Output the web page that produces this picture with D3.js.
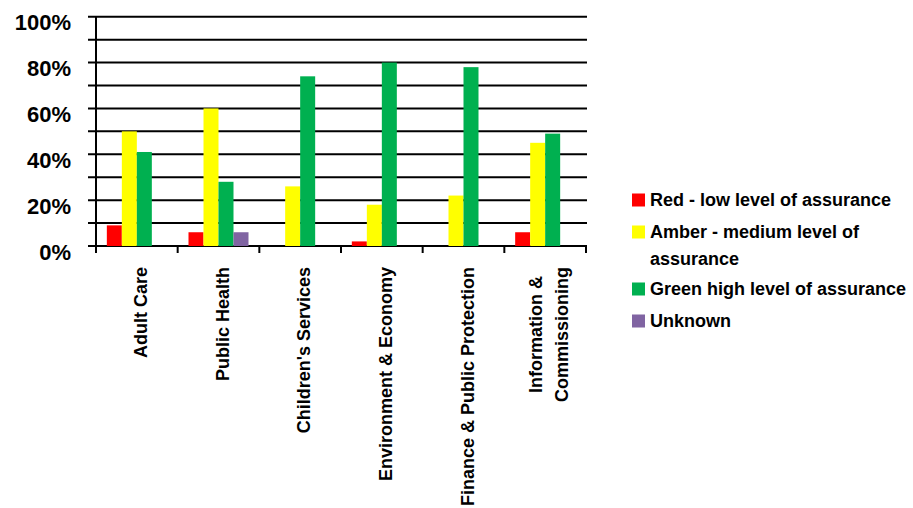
<!DOCTYPE html>
<html>
<head>
<meta charset="utf-8">
<script src="https://cdn.jsdelivr.net/npm/d3@7"></script>
<style>
  body { margin: 0; background: #fff; }
  svg { font-family: "Liberation Sans", Arial, sans-serif; font-weight: bold; }
</style>
</head>
<body>
<svg width="913" height="508"></svg>
<script>
const categories = [
  'Adult Care',
  'Public Health',
  "Children's Services",
  'Environment & Economy',
  'Finance & Public Protection',
  'Information &\nCommissioning'
];
const seriesNames = [
  'Red - low level of assurance',
  'Amber - medium level of\nassurance',
  'Green high level of assurance',
  'Unknown'
];
const seriesColors = ['#ff0000', '#ffff00', '#00b050', '#8064a2'];

// values per category, in series order
const red     = [0.09, 0.06, 0.00, 0.02, 0.00, 0.06];
const amber   = [0.50, 0.60, 0.26, 0.18, 0.22, 0.45];
const green   = [0.41, 0.28, 0.74, 0.80, 0.78, 0.49];
const unknown = [0.00, 0.06, 0.00, 0.00, 0.00, 0.00];
const seriesValues = [red, amber, green, unknown];

const yTicks = [0, 0.2, 0.4, 0.6, 0.8, 1];
const gridTicks = d3.range(0, 11).map(d => d / 10);

const svg = d3.select('svg');

const x = d3.scaleBand().domain(categories).range([96, 586]);
const y = d3.scaleLinear().domain([0, 1]).range([246, 16.7]);

const bw = x.bandwidth();
const gap = (bw - 60) / 2;
const xInner = d3.scaleBand().domain(d3.range(seriesNames.length)).range([gap, bw - gap]);

// gridlines with left tick stubs
svg.append('g')
  .selectAll('line')
  .data(gridTicks)
  .join('line')
  .attr('x1', 88)
  .attr('x2', 587)
  .attr('y1', d => y(d))
  .attr('y2', d => y(d))
  .attr('stroke', '#000')
  .attr('stroke-width', 2);

// y labels
svg.append('g')
  .selectAll('text')
  .data(yTicks)
  .join('text')
  .attr('x', 71)
  .attr('y', d => y(d) + 6)
  .attr('text-anchor', 'end')
  .attr('dominant-baseline', 'central')
  .attr('font-size', 22)
  .text(d => d3.format('.0%')(d));

// bars
const groups = svg.append('g')
  .selectAll('g')
  .data(categories)
  .join('g')
  .attr('transform', d => `translate(${x(d)},0)`);

groups.selectAll('rect')
  .data((c, i) => seriesValues.map((vals, s) => ({ s, v: vals[i] })))
  .join('rect')
  .attr('x', d => xInner(d.s))
  .attr('width', xInner.bandwidth())
  .attr('y', d => y(d.v))
  .attr('height', d => y(0) - y(d.v))
  .attr('fill', d => seriesColors[d.s]);

// y axis line
svg.append('line')
  .attr('x1', 96).attr('x2', 96)
  .attr('y1', y(1)).attr('y2', y(0) + 7)
  .attr('stroke', '#000').attr('stroke-width', 2);

// x axis ticks
const bounds = categories.map(c => x(c)).concat([x.range()[1]]);
svg.append('g')
  .selectAll('line')
  .data(bounds)
  .join('line')
  .attr('x1', d => d).attr('x2', d => d)
  .attr('y1', y(0)).attr('y2', y(0) + 7)
  .attr('stroke', '#000').attr('stroke-width', 2);

// category labels, rotated
const labelTop = 267;
const lineH = 26;
categories.forEach(c => {
  const lines = c.split('\n');
  const cx = x(c) + bw / 2 + 4;
  const g = svg.append('g');
  const texts = lines.map((ln, k) => g.append('text')
    .attr('font-size', 18)
    .attr('dominant-baseline', 'central')
    .text(ln));
  const lens = texts.map(t => t.node().getComputedTextLength());
  const maxLen = d3.max(lens);
  texts.forEach((t, k) => {
    const px = cx + (k - (lines.length - 1) / 2) * lineH;
    const py = labelTop + maxLen / 2;
    t.attr('text-anchor', 'middle')
      .attr('transform', `translate(${px},${py}) rotate(-90)`);
  });
});

// legend
const legendRows = [200, 232, 289, 321];
const legend = svg.append('g');
seriesNames.forEach((name, s) => {
  const yy = legendRows[s];
  legend.append('rect')
    .attr('x', 632).attr('y', yy - 6.5)
    .attr('width', 13).attr('height', 13)
    .attr('fill', seriesColors[s]);
  name.split('\n').forEach((ln, k) => {
    legend.append('text')
      .attr('x', 650)
      .attr('y', yy + k * 27)
      .attr('dominant-baseline', 'central')
      .attr('font-size', 18)
      .text(ln);
  });
});
</script>
</body>
</html>
